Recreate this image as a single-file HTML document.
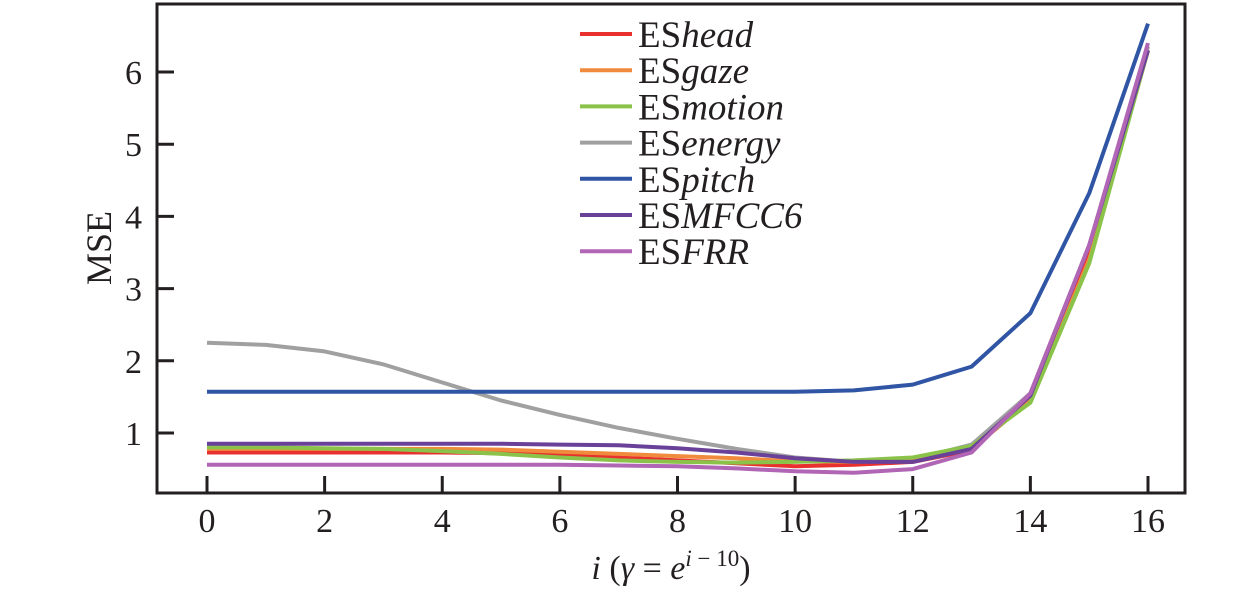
<!DOCTYPE html>
<html><head><meta charset="utf-8"><style>
body{margin:0;background:#fff;}
svg text{font-family:"Liberation Serif","Times New Roman",serif;fill:#231f20;}
</style></head><body>
<svg id="chart" width="1260" height="598" xmlns="http://www.w3.org/2000/svg">
<g id="marks"></g>
<rect x="157" y="4" width="1028" height="489" fill="none" stroke="#231f20" stroke-width="3"/>
<g id="axes"></g>
<text x="0" y="0" font-size="36" text-anchor="middle" transform="translate(111,248) rotate(-90)">MSE</text>
<text x="671" y="579" font-size="34" text-anchor="middle"><tspan font-style="italic">i</tspan> (<tspan font-style="italic">γ</tspan> = <tspan font-style="italic">e</tspan><tspan font-size="23" dy="-13" font-style="italic">i</tspan><tspan font-size="23"> − 10</tspan><tspan dy="13">)</tspan></text>
<g id="legend"></g>
</svg>
<script>
const xValues=[0,1,2,3,4,5,6,7,8,9,10,11,12,13,14,15,16];
const seriesNames=["head","gaze","motion","energy","pitch","MFCC6","FRR"];
const seriesColors=["#e8312f","#f08a3c","#8bc34a","#a0a0a0","#2f55a4","#6a4199","#b065b5"];
const headVals=[0.73,0.73,0.73,0.73,0.73,0.72,0.70,0.66,0.62,0.58,0.54,0.56,0.60,0.76,1.50,3.55,6.30];
const gazeVals=[0.78,0.78,0.78,0.78,0.78,0.77,0.74,0.71,0.68,0.65,0.61,0.60,0.62,0.78,1.45,3.40,6.30];
const motionVals=[0.80,0.80,0.79,0.78,0.75,0.71,0.66,0.62,0.60,0.59,0.60,0.62,0.66,0.82,1.42,3.35,6.30];
const energyVals=[2.25,2.22,2.13,1.95,1.70,1.45,1.25,1.07,0.92,0.78,0.66,0.60,0.63,0.84,1.55,3.60,6.35];
const pitchVals=[1.57,1.57,1.57,1.57,1.57,1.57,1.57,1.57,1.57,1.57,1.57,1.59,1.67,1.92,2.66,4.32,6.67];
const mfccVals=[0.85,0.85,0.85,0.85,0.85,0.85,0.84,0.83,0.79,0.73,0.65,0.60,0.60,0.78,1.52,3.60,6.30];
const frrVals=[0.56,0.56,0.56,0.56,0.56,0.56,0.56,0.55,0.54,0.51,0.47,0.45,0.50,0.73,1.55,3.60,6.40];
const xTicks=[0,2,4,6,8,10,12,14,16];
const yTicks=[1,2,3,4,5,6];
const allSeries=[headVals,gazeVals,motionVals,energyVals,pitchVals,mfccVals,frrVals];
const NS="http://www.w3.org/2000/svg";
function xs(v){return 207+(v-0)*(1148-207)/16;}
function ys(v){return 433-(v-1)*72.2;}
function mk(t,a,p){const e=document.createElementNS(NS,t);for(const k in a)e.setAttribute(k,a[k]);p.appendChild(e);return e;}
const marks=document.getElementById('marks'),axes=document.getElementById('axes'),legend=document.getElementById('legend');
const order=[3,4,0,1,2,5,6];
order.forEach(i=>{
 const d=allSeries[i].map((v,j)=>(j?'L':'M')+xs(xValues[j]).toFixed(1)+','+ys(v).toFixed(1)).join(' ');
 const p=mk('path',{d:d,fill:'none',stroke:seriesColors[i],'stroke-width':4,'stroke-linejoin':'round'},marks);
 
 
});
xTicks.forEach(t=>{
 const l=mk('line',{x1:xs(t),x2:xs(t),y1:493,y2:476,stroke:'#231f20','stroke-width':3},axes);
 
 
 const tx=mk('text',{x:xs(t),y:532,'font-size':34,'text-anchor':'middle'},axes);
 tx.textContent=t;
 
 
});
yTicks.forEach(t=>{
 const l=mk('line',{x1:157,x2:174,y1:ys(t),y2:ys(t),stroke:'#231f20','stroke-width':3},axes);
 
 
 const tx=mk('text',{x:142,y:ys(t)+12,'font-size':34,'text-anchor':'end'},axes);
 tx.textContent=t;
 
 
});
seriesNames.forEach((n,i)=>{
 const y=34+i*36.2;
 const g=mk('g',{},legend);
 
 
 mk('line',{x1:580,x2:632,y1:y,y2:y,stroke:seriesColors[i],'stroke-width':4},g);
 const tx=mk('text',{x:638,y:y+13,'font-size':37},g);
 tx.innerHTML='ES<tspan font-style="italic">'+n+'</tspan>';
});
</script>
</body></html>
